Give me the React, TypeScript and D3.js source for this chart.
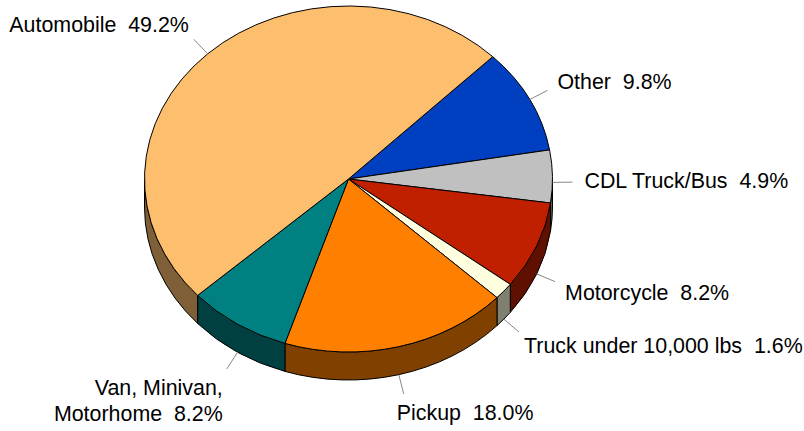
import React from "react";
import * as d3 from "d3";

// vehicle type shares, clockwise from the upper right
const categories = [
  "Other",
  "CDL Truck/Bus",
  "Motorcycle",
  "Truck under 10,000 lbs",
  "Pickup",
  "Van, Minivan,\nMotorhome",
  "Automobile",
];
const values = [9.8, 4.9, 8.2, 1.6, 18.0, 8.2, 49.2];
const colors = ["#0040c0", "#c0c0c0", "#c02000", "#ffffe0", "#ff8000", "#008080", "#fdbe6e"];

// label placement relative to the leader line end
const labelLayout = [
  { dx: 10, dy: -1, anchor: "start", lift: 0 },
  { dx: 12, dy: 6, anchor: "start", lift: 6 },
  { dx: 10, dy: 18, anchor: "start", lift: 0 },
  { dx: 5, dy: 21, anchor: "start", lift: 0 },
  { dx: -7, dy: 26, anchor: "start", lift: 0 },
  { dx: -4, dy: 26, anchor: "end", lift: 0 },
  { dx: -5, dy: -7, anchor: "end", lift: 0 },
];

const width = 804,
  height = 431;
const cx = 348.5,
  cy = 179,
  rx = 204,
  ry = 173,
  depth = 28;

const pt = (a: number, off = 0): [number, number] => [cx + rx * Math.sin(a), cy - ry * Math.cos(a) + off];

const half = (c: string) => {
  const r = d3.rgb(c);
  return d3.rgb(r.r / 2, r.g / 2, r.b / 2).formatHex();
};

export default function App() {
  const arcs = d3
    .pie<number>()
    .sort(null)
    .startAngle(Math.PI / 4)
    .endAngle(Math.PI / 4 + 2 * Math.PI)(values);

  const topPath = (s: number, e: number) => {
    const [x0, y0] = pt(s);
    const [x1, y1] = pt(e);
    const large = e - s > Math.PI ? 1 : 0;
    return `M${cx},${cy}L${x0},${y0}A${rx},${ry} 0 ${large} 1 ${x1},${y1}Z`;
  };

  const sidePath = (s: number, e: number) => {
    const a0 = Math.max(s, Math.PI / 2);
    const a1 = Math.min(e, (3 * Math.PI) / 2);
    if (a1 <= a0) return null;
    const [x0, y0] = pt(a0);
    const [x1, y1] = pt(a1);
    return `M${x0},${y0}A${rx},${ry} 0 0 1 ${x1},${y1}L${x1},${y1 + depth}A${rx},${ry} 0 0 0 ${x0},${y0 + depth}Z`;
  };

  return (
    <svg width={width} height={height} style={{ position: "absolute", left: 0, top: 0, background: "#fff" }}>
      <g stroke="#000" strokeWidth={1} strokeLinejoin="round">
        {arcs.map((a, i) => {
          const d = sidePath(a.startAngle, a.endAngle);
          return d ? <path key={"s" + i} d={d} fill={half(colors[i])} /> : null;
        })}
        {arcs.map((a, i) => (
          <path key={"t" + i} d={topPath(a.startAngle, a.endAngle)} fill={colors[i]} />
        ))}
      </g>
      <g fontFamily="'Liberation Sans', Arial, Helvetica, sans-serif" fontSize={21.4} fill="#000">
        {arcs.map((a, i) => {
          const m = (a.startAngle + a.endAngle) / 2;
          const lay = labelLayout[i];
          const front = Math.cos(m) < 0 ? depth : 0;
          const [sx, sy] = pt(m, front + lay.lift);
          const ex = sx + 20 * Math.sin(m);
          const ey = sy - 20 * Math.cos(m);
          const lines = categories[i].split("\n");
          const pct = d3.format(".1f")(values[i]) + "%";
          return (
            <g key={"l" + i}>
              <line x1={sx} y1={sy} x2={ex} y2={ey} stroke="#888" strokeWidth={1} />
              <text
                x={ex + lay.dx}
                y={ey + lay.dy}
                textAnchor={lay.anchor}
                style={{ whiteSpace: "pre" }}
              >
                {lines.map((l, j) => (
                  <tspan key={j} x={ex + lay.dx} dy={j === 0 ? 0 : 26}>
                    {j === lines.length - 1 ? `${l}  ${pct}` : l}
                  </tspan>
                ))}
              </text>
            </g>
          );
        })}
      </g>
    </svg>
  );
}
